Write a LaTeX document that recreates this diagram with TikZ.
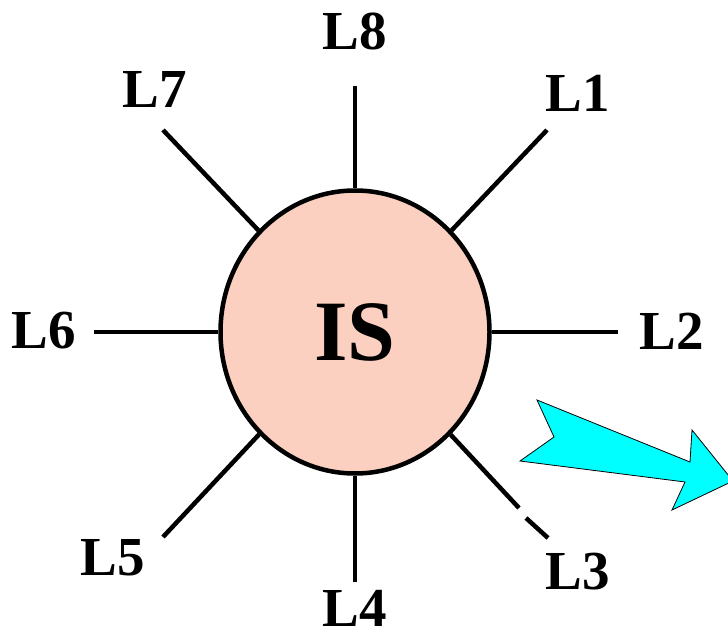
\documentclass[tikz,border=0pt]{standalone}
\usepackage{fontspec}
\setmainfont{Liberation Serif}
\usetikzlibrary{shapes.geometric}
\definecolor{hubpink}{RGB}{251,208,192}
\definecolor{boltcyan}{RGB}{0,255,255}

\begin{document}
\begin{tikzpicture}[
  x=1pt, y=-1pt,
  hub/.style={draw, ellipse, line width=4.5pt, fill=hubpink, inner sep=0pt,
    minimum width=269pt, minimum height=283pt,
    font=\fontsize{86}{86}\selectfont\bfseries},
  lab/.style={inner sep=0pt, font=\fontsize{55}{55}\selectfont\bfseries},
  spoke/.style={line width=4.5pt},
  bolt/.style={draw=black, line width=0.8pt, fill=boltcyan, line join=miter}
]
\useasboundingbox (0,0) rectangle (728,636);

% ---------- Hub ----------
\node[hub] (is) at (355,332) {IS};

% ---------- Labels ----------
\node[lab] (l1) at (578,93)  {L1};
\node[lab] (l2) at (672,331) {L2};
\node[lab] (l3) at (578,572) {L3};
\node[lab] (l4) at (355,608) {L4};
\node[lab] (l5) at (113,558) {L5};
\node[lab] (l6) at (44,331)  {L6};
\node[lab] (l7) at (155,89)  {L7};
\node[lab] (l8) at (355,31)  {L8};

% ---------- Spoke ends ----------
\coordinate (e1) at (547,130);
\coordinate (e2) at (618,332);
\coordinate (e3a) at (519,508);
\coordinate (e3b) at (526,518);
\coordinate (e3) at (548,538);
\coordinate (e4) at (355,582);
\coordinate (e5) at (163,537);
\coordinate (e6) at (94,332);
\coordinate (e7) at (163,130);
\coordinate (e8) at (355,86);

% ---------- Spokes ----------
\draw[spoke] (is) -- (e1);
\draw[spoke] (is) -- (e2);
\draw[spoke] (is) -- (e3a);
\draw[spoke] (e3b) -- (e3);
\draw[spoke] (is) -- (e4);
\draw[spoke] (is) -- (e5);
\draw[spoke] (is) -- (e6);
\draw[spoke] (is) -- (e7);
\draw[spoke] (is) -- (e8);

% ---------- Arrow ----------
\begin{scope}
  \clip (0,0) rectangle (728,636);
  \draw[bolt] (537,400) -- (690,462) -- (692,430) -- (733,481)
    -- (672,510) -- (685,482) -- (520,461) -- (554,437) -- cycle;
\end{scope}
\end{tikzpicture}
\end{document}
